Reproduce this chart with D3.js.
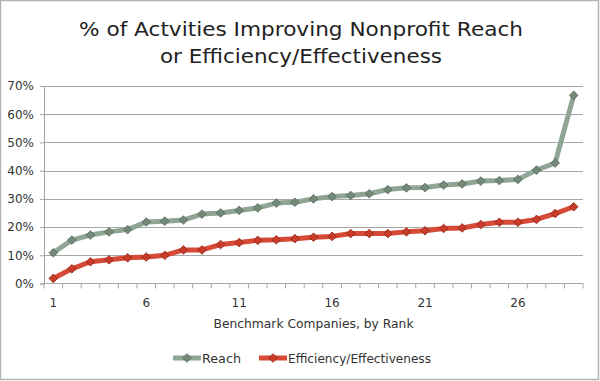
<!DOCTYPE html>
<html><head><meta charset="utf-8">
<script src="https://cdn.jsdelivr.net/npm/d3@7"></script>
<style>html,body{margin:0;padding:0;background:#fff}svg{display:block}</style>
</head><body>
<svg id="c" width="600" height="381"></svg>
<script>
const ranks = d3.range(1, 30);
const reach = [10.9,15.4,17.2,18.3,19.1,21.8,22.1,22.5,24.6,25.0,25.9,26.8,28.5,28.8,30.0,30.8,31.2,31.8,33.3,33.9,34.0,34.9,35.3,36.3,36.5,36.9,40.2,42.7,66.7];
const efficiency = [1.8,5.2,7.7,8.4,9.1,9.4,10.0,11.9,11.9,13.8,14.5,15.3,15.5,15.9,16.4,16.7,17.7,17.7,17.7,18.3,18.7,19.5,19.7,20.9,21.7,21.7,22.7,24.8,27.2];
const yTicks = [0,10,20,30,40,50,60,70];
const xTickLabels = [1,6,11,16,21,26];
const seriesNames = ["Reach","Efficiency/Effectiveness"];
const titleLines = ["% of Actvities Improving Nonprofit Reach","or Efficiency/Effectiveness"];

const FONT = "'DejaVu Sans', sans-serif";
const svg = d3.select("#c");
svg.append("rect").attr("x",0.5).attr("y",0.5).attr("width",598).attr("height",379)
  .attr("fill","#fff").attr("stroke","#b3b3b3").attr("stroke-width",1.5);

const L = 44, R = 583, T = 86, B = 283.5;
const x = d3.scaleBand().domain(ranks).range([L, R]);
const y = d3.scaleLinear().domain([0,70]).range([B, T]);
const cx = d => x(d) + x.bandwidth()/2;

function fitText(sel, w){
  const n = sel.node(); const len = n.getComputedTextLength();
  if (len > 0) sel.attr("textLength", w).attr("lengthAdjust","spacingAndGlyphs");
}

// title
const t1 = svg.append("text").attr("x",301).attr("y",36).attr("text-anchor","middle")
  .attr("font-family",FONT).attr("font-size",19).attr("fill","#222").text(titleLines[0]);
fitText(t1, 444);
const t2 = svg.append("text").attr("x",301).attr("y",63).attr("text-anchor","middle")
  .attr("font-family",FONT).attr("font-size",19).attr("fill","#222").text(titleLines[1]);
fitText(t2, 282);

// gridlines
svg.append("g").selectAll("line").data(yTicks.slice(1)).join("line")
  .attr("x1",L).attr("x2",R).attr("y1",d=>Math.round(y(d))+0.5).attr("y2",d=>Math.round(y(d))+0.5)
  .attr("stroke","#a6a6a6").attr("stroke-width",1);

// y axis
const yAxis = svg.append("g").attr("transform",`translate(${L},0)`)
  .call(d3.axisLeft(y).tickValues(yTicks).tickFormat(d=>d+"%").tickSize(4).tickPadding(6));
yAxis.select(".domain").attr("stroke","#a6a6a6");
yAxis.selectAll(".tick line").attr("stroke","#a6a6a6");
yAxis.selectAll("text").attr("font-family",FONT).attr("font-size",12).attr("fill","#333");

// x axis
const xg = svg.append("g").attr("transform",`translate(0,${B})`);
xg.append("line").attr("x1",L).attr("x2",R).attr("y1",0).attr("y2",0).attr("stroke","#a6a6a6");
xg.selectAll("line.tk").data(ranks.concat([30])).join("line").attr("class","tk")
  .attr("x1",d=>d===30?R:x(d)).attr("x2",d=>d===30?R:x(d)).attr("y1",0).attr("y2",5).attr("stroke","#a6a6a6");
xg.selectAll("text").data(xTickLabels).join("text")
  .attr("x",d=>cx(d)).attr("y",23).attr("text-anchor","middle")
  .attr("font-family",FONT).attr("font-size",12).attr("fill","#333").text(d=>d);
const xt = svg.append("text").attr("x",(L+R)/2).attr("y",328).attr("text-anchor","middle")
  .attr("font-family",FONT).attr("font-size",12.5).attr("fill","#333").text("Benchmark Companies, by Rank");
fitText(xt, 200);

const styles = [
  {data: reach, line:"#8fa596", fill:"#738a78", stroke:"#56685a"},
  {data: efficiency, line:"#d64a36", fill:"#c93c2a", stroke:"#8e2618"}
];
const diamond = d3.symbol().type(d3.symbolDiamond2).size(48);
const line = d3.line().x((d,i)=>cx(ranks[i])).y(d=>y(d));
styles.forEach(s=>{
  svg.append("path").datum(s.data).attr("d",line).attr("fill","none")
    .attr("stroke",s.line).attr("stroke-width",5).attr("stroke-linejoin","round");
});
styles.forEach(s=>{
  svg.append("g").selectAll("path").data(s.data).join("path")
    .attr("transform",(d,i)=>`translate(${cx(ranks[i])},${y(d)})`)
    .attr("d",diamond).attr("fill",s.fill).attr("stroke",s.stroke).attr("stroke-width",0.8);
});

// legend
const legY = 358;
const leg = [{x0:173, x1:201, tx:202, w:39}, {x0:259, x1:287, tx:288, w:143}];
leg.forEach((p,i)=>{
  const s = styles[i];
  svg.append("line").attr("x1",p.x0).attr("x2",p.x1).attr("y1",legY).attr("y2",legY)
    .attr("stroke",s.line).attr("stroke-width",5);
  svg.append("path").attr("transform",`translate(${(p.x0+p.x1)/2},${legY})`).attr("d",diamond)
    .attr("fill",s.fill).attr("stroke",s.stroke).attr("stroke-width",0.8);
  const tt = svg.append("text").attr("x",p.tx).attr("y",legY+4.5).attr("font-family",FONT)
    .attr("font-size",12.5).attr("fill","#333").text(seriesNames[i]);
  fitText(tt, p.w);
});
</script>
</body></html>
